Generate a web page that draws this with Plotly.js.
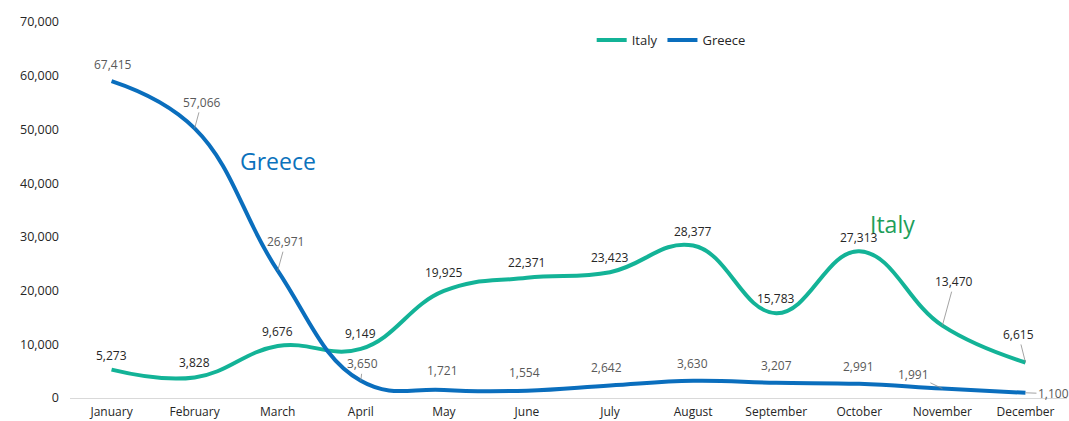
<!DOCTYPE html>
<html>
<head>
<meta charset="utf-8">
<script src="https://cdn.plot.ly/plotly-3.0.1.min.js"></script>
<style>html,body{margin:0;padding:0;background:#fff;}#chart{width:1069px;height:421px;}</style>
</head>
<body>
<div id="chart"></div>
<script>
const months = ["January","February","March","April","May","June","July","August","September","October","November","December"];
// Italy: plotted values and printed labels
const italyValues = [5273, 3828, 9676, 9149, 19925, 22371, 23423, 28377, 15783, 27313, 13470, 6615];
// Greece: plotted values (drawn lower than the printed labels)
const greeceValues = [59000, 50200, 23700, 3200, 1500, 1370, 2320, 3190, 2820, 2630, 1750, 970];
const greeceLabels = [67415, 57066, 26971, 3650, 1721, 1554, 2642, 3630, 3207, 2991, 1991, 1100];
const yTicks = [0, 10000, 20000, 30000, 40000, 50000, 60000, 70000];

const italyColor = "#13B397";
const greeceColor = "#0A6EBD";
const fmt = v => v.toLocaleString("en-US");
const FONT = "Open Sans, Lato, sans-serif";

// label offsets (pixels): [ax, ay, leader]
const italyOff = [[0,-14,0],[0,-15,0],[0,-15,0],[0,-15,0],[0,-18,0],[0,-15,0],[0,-15,0],[0,-14,0],[0,-15,0],[0,-14,0],[12,-44,1],[-7,-28,1]];
const greeceOff = [[1,-17,0],[7,-26,1],[8,-29,1],[2,-17,1],[-1,-19,0],[-2,-18,0],[-4,-18,0],[-1,-17,0],[0,-17,0],[-1,-17,0],[-29,-14,1],[28,1,1]];

const annotations = [];
function addLabels(vals, labels, off, color) {
  vals.forEach((v, i) => {
    const o = off[i];
    if (o[2]) {
      annotations.push({x: months[i], y: v, xref: "x", yref: "y", text: fmt(labels[i]),
        showarrow: true, arrowhead: 0, arrowwidth: 0.8, arrowcolor: "#8c8c8c", ax: o[0], ay: o[1],
        standoff: 0, font: {family: FONT, size: 12, color: color}});
    } else {
      annotations.push({x: months[i], y: v, xref: "x", yref: "y", text: fmt(labels[i]),
        showarrow: false, xshift: o[0], yshift: -o[1], font: {family: FONT, size: 12, color: color}});
    }
  });
}
addLabels(italyValues, italyValues, italyOff, "#262626");
addLabels(greeceValues, greeceLabels, greeceOff, "#595959");

annotations.push({x: months[2], y: greeceValues[2], xref: "x", yref: "y", text: "Greece", showarrow: false,
  xshift: 0, yshift: 110, font: {family: FONT, size: 23, color: "#0B72BC"}});
annotations.push({x: months[9], y: italyValues[9], xref: "x", yref: "y", text: "Italy", showarrow: false,
  xshift: 33, yshift: 27, font: {family: FONT, size: 23, color: "#1E9E5A"}});

const traces = [
  {x: months, y: italyValues, name: "Italy", type: "scatter", mode: "lines",
   line: {color: italyColor, width: 4, shape: "spline", smoothing: 1.2}},
  {x: months, y: greeceValues, name: "Greece", type: "scatter", mode: "lines",
   line: {color: greeceColor, width: 4, shape: "spline", smoothing: 1.2}}
];

const layout = {
  width: 1069, height: 421,
  margin: {l: 70, r: 2, t: 22, b: 23},
  paper_bgcolor: "#fff", plot_bgcolor: "#fff",
  font: {family: FONT, size: 12, color: "#262626"},
  showlegend: true,
  legend: {orientation: "h", x: 0.603, xanchor: "center", y: 0.952, yanchor: "middle",
    font: {family: FONT, size: 13, color: "#262626"}, itemwidth: 30, tracegroupgap: 0},
  xaxis: {type: "category", showgrid: false, zeroline: false, showline: true, linecolor: "#d9d9d9",
    linewidth: 1, ticks: "", ticklabelstandoff: 3, tickfont: {family: FONT, size: 12, color: "#262626"}, range: [-0.5, 11.5]},
  yaxis: {range: [0, 70000], tickvals: yTicks, ticktext: yTicks.map(fmt), showgrid: false,
    zeroline: false, showline: false, ticks: "", ticklabelstandoff: 10,
    tickfont: {family: FONT, size: 12.5, color: "#262626"}},
  annotations: annotations
};

Plotly.newPlot("chart", traces, layout, {displayModeBar: false, staticPlot: true});
</script>
</body>
</html>
